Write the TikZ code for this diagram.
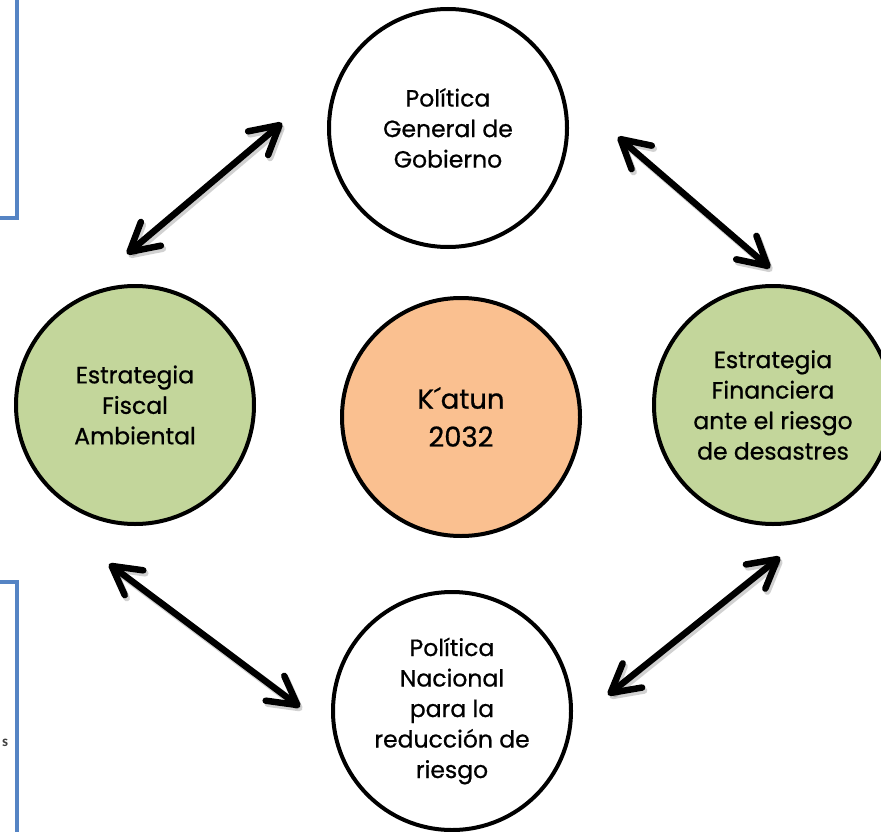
\documentclass[tikz,border=0pt]{standalone}
\usepackage{fontspec}
\setmainfont{Poppins}[FakeBold=0.7]
\newfontfamily\cutfont{Carlito}
\usetikzlibrary{arrows.meta}
\definecolor{leafgreen}{HTML}{C3D69B}
\definecolor{peach}{HTML}{FAC090}
\definecolor{boxblue}{HTML}{5584C4}
\definecolor{cuttext}{HTML}{404040}
\begin{document}
\begin{tikzpicture}[x=1pt,y=-1pt,
  bubble/.style={circle, draw=black, line width=4pt, minimum size=238pt, inner sep=0pt,
    align=center, font=\fontsize{23.5}{30.5}\selectfont},
  link/.style={line width=6.5pt, line cap=round,
    {Straight Barb[length=28pt,width=31pt,round]}-{Straight Barb[length=28pt,width=31pt,round]}},
  linkshadow/.style={link, draw=black, opacity=0.18, transform canvas={xshift=2pt,yshift=-3pt}},
  sidebox/.style={draw=boxblue, line width=4pt}
]
\useasboundingbox (0,0) rectangle (881,832);
\clip (0,0) rectangle (881,832);

% partial side boxes
\draw[sidebox] (-10,-10) rectangle (17,218);
\draw[sidebox] (-10,582) rectangle (17,850);
\node[font=\cutfont\bfseries\fontsize{15}{17}\selectfont, text=cuttext, inner sep=0pt] (cut) at (5,743) {s};

% circles
\node[bubble] (top) at (448,128) {Política\\General de\\Gobierno};
\node[bubble, fill=leafgreen] (left) at (135,405) {Estrategia\\Fiscal\\Ambiental};
\node[bubble, fill=peach, font=\fontsize{27.5}{38}\selectfont] (center) at (461,417) {K´atun\\2032};
\node[bubble, fill=leafgreen] (right) at (773,405) {Estrategia\\Financiera\\ante el riesgo\\de desastres};
\node[bubble] (bottom) at (452,711) {Política\\Nacional\\para la\\reducción de\\riesgo};

% arrow end points
\coordinate (a1p) at (282,123); \coordinate (a1q) at (127,254);
\coordinate (a2p) at (618,137); \coordinate (a2q) at (770,268);
\coordinate (a3p) at (109,564); \coordinate (a3q) at (300,707);
\coordinate (a4p) at (780,557); \coordinate (a4q) at (608,695);

% shadows
\draw[linkshadow] (a1q) -- (a1p);
\draw[linkshadow] (a2p) -- (a2q);
\draw[linkshadow] (a3p) -- (a3q);
\draw[linkshadow] (a4q) -- (a4p);

% arrows
\draw[link] (a1q) -- (a1p);
\draw[link] (a2p) -- (a2q);
\draw[link] (a3p) -- (a3q);
\draw[link] (a4q) -- (a4p);
\end{tikzpicture}
\end{document}
